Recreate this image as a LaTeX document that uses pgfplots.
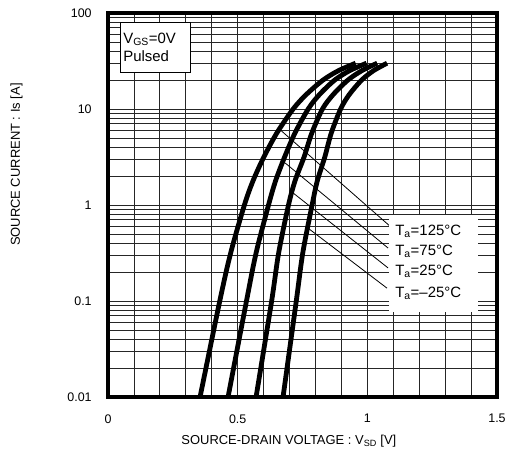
\documentclass[border=0pt]{standalone}
\usepackage{fontspec}
\setmainfont{Liberation Sans}
\usepackage{pgfplots}
\pgfplotsset{compat=1.18}
\usetikzlibrary{calc}

\begin{document}
\fontsize{12.5}{15}\selectfont
\begin{tikzpicture}
\begin{semilogyaxis}[
    scale only axis,
    width=389bp, height=384bp,
    xmin=0, xmax=1.5,
    ymin=0.01, ymax=100,
    xtick={0,0.5,1,1.5},
    xticklabels={0,0.5,1,1.5},
    minor x tick num=4,
    ytick={0.01,0.1,1,10,100},
    yticklabels={0.01,0.1,1,10,100},
    major tick length=0pt, minor tick length=0pt,
    grid=both,
    major grid style={black!85, line width=0.75bp},
    minor grid style={black!85, line width=0.75bp},
    axis line style={line width=3.5bp},
    tick label style={font=\fontsize{12.5}{15}\selectfont},
    y tick label style={xshift=-12bp},
    x tick label style={yshift=-13bp},
    xlabel={SOURCE-DRAIN VOLTAGE : V\textsubscript{SD} [V]},
    ylabel={SOURCE CURRENT : Is [A]},
    label style={font=\fontsize{13}{15}\selectfont},
    xlabel style={at={(axis description cs:0.465,-0.115)}, anchor=center},
    ylabel style={at={(axis description cs:-0.235,0.605)}, anchor=center},
    every axis plot/.append style={black},
]
% Ta = 125 C
\addplot[line width=4.8bp, smooth] coordinates {
    (0.355,0.01)(0.431,0.1)(0.473,0.316)(0.526,1)(0.559,1.78)(0.601,3.16)
    (0.651,5.62)(0.714,10)(0.764,14.1)(0.829,20)(0.889,25.1)(0.955,30)
};
% Ta = 75 C
\addplot[line width=4.8bp, smooth] coordinates {
    (0.463,0.01)(0.534,0.1)(0.571,0.316)(0.619,1)(0.646,1.78)(0.681,3.16)
    (0.721,5.62)(0.772,10)(0.815,14.1)(0.874,20)(0.932,25.1)(0.997,30)
};
% Ta = 25 C
\addplot[line width=4.8bp, smooth] coordinates {
    (0.571,0.01)(0.631,0.1)(0.658,0.316)(0.696,1)(0.721,1.78)(0.756,3.16)
    (0.786,5.62)(0.827,10)(0.868,14.1)(0.925,20)(0.979,25.1)(1.038,30)
};
% Ta = -25 C
\addplot[line width=4.8bp, smooth] coordinates {
    (0.675,0.01)(0.726,0.1)(0.751,0.316)(0.787,1)(0.807,1.78)(0.836,3.16)
    (0.861,5.62)(0.897,10)(0.930,14.1)(0.978,20)(1.024,25.1)(1.076,30)
};
% leader lines
\addplot[line width=0.8bp] coordinates {(0.656,6.34)(1.091,0.59)};
\addplot[line width=0.8bp] coordinates {(0.683,2.74)(1.080,0.356)};
\addplot[line width=0.8bp] coordinates {(0.710,1.36)(1.080,0.221)};
\addplot[line width=0.8bp] coordinates {(0.771,0.575)(1.076,0.136)};

\fill[white] (axis cs:1.085,0.787) rectangle (axis cs:1.427,0.0767);
\begin{scope}[every node/.style={anchor=west, inner sep=0pt, font=\fontsize{15}{17}\selectfont}]
\node at (axis cs:1.107,0.527) {T\textsubscript{a}=125°C};
\node at (axis cs:1.107,0.327) {T\textsubscript{a}=75°C};
\node at (axis cs:1.107,0.202) {T\textsubscript{a}=25°C};
\node at (axis cs:1.107,0.120) {T\textsubscript{a}=–25°C};
\end{scope}
\node[draw, fill=white, line width=0.75bp, align=left, text width=64bp,
      inner xsep=3bp, minimum height=50bp, anchor=north west,
      font=\fontsize{15}{18.5}\selectfont]
    at (axis cs:0.046,81) {V\textsubscript{GS}=0V\\Pulsed};
\end{semilogyaxis}
\pgfresetboundingbox
\path ($(current axis.south west)+(-108bp,-64bp)$) rectangle ($(current axis.north east)+(13bp,13bp)$);
\end{tikzpicture}
\end{document}
